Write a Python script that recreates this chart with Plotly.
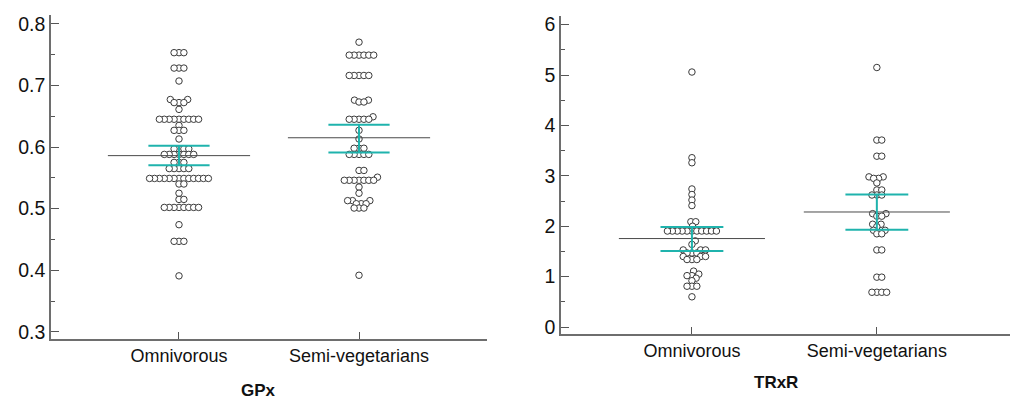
import math
import plotly.graph_objects as go
from plotly.subplots import make_subplots

categories = ["Omnivorous", "Semi-vegetarians"]

gpx_omnivorous = [
    0.753, 0.753, 0.753,
    0.728, 0.728, 0.728,
    0.707,
    0.677, 0.677,
    0.672, 0.672, 0.672,
    0.661,
    0.645, 0.645, 0.645, 0.645, 0.645, 0.645, 0.645, 0.645, 0.645,
    0.635,
    0.627, 0.627, 0.627,
    0.613,
    0.597, 0.597, 0.597, 0.597,
    0.588, 0.588, 0.588, 0.588, 0.588, 0.588, 0.588,
    0.575, 0.575, 0.575,
    0.565, 0.565, 0.565, 0.565, 0.565,
    0.549, 0.549, 0.549, 0.549, 0.549, 0.549, 0.549, 0.549, 0.549, 0.549, 0.549, 0.549, 0.549,
    0.540, 0.540,
    0.525,
    0.515, 0.515,
    0.502, 0.502, 0.502, 0.502, 0.502, 0.502, 0.502, 0.502,
    0.474,
    0.447, 0.447, 0.447,
    0.391,
]
gpx_semiveg = [
    0.770,
    0.749, 0.749, 0.749, 0.749, 0.749, 0.749,
    0.716, 0.716, 0.716, 0.716, 0.716,
    0.676, 0.676, 0.673, 0.673,
    0.649, 0.645, 0.645, 0.645, 0.645, 0.645,
    0.627, 0.613,
    0.598, 0.598, 0.598,
    0.588, 0.588, 0.588, 0.588, 0.588,
    0.562, 0.562,
    0.551, 0.546, 0.546, 0.546, 0.546, 0.546, 0.546, 0.546,
    0.535, 0.525,
    0.513, 0.513, 0.513, 0.508, 0.508, 0.508, 0.501, 0.501, 0.501,
    0.392,
]
trxr_omnivorous = [
    5.06,
    3.36, 3.26,
    2.74, 2.63, 2.52, 2.41,
    2.09, 2.09, 2.00,
    1.905, 1.905, 1.905, 1.905, 1.905, 1.905, 1.905, 1.905, 1.905, 1.905, 1.905,
    1.71, 1.64,
    1.53, 1.53, 1.53, 1.47, 1.47, 1.47, 1.40, 1.40, 1.40, 1.34, 1.34, 1.34,
    1.11, 1.05, 1.02, 1.02, 0.97, 0.92,
    0.81, 0.81, 0.81,
    0.60,
]
trxr_semiveg = [
    5.15,
    3.71, 3.71,
    3.39, 3.39,
    2.98, 2.98, 2.95, 2.95,
    2.86,
    2.72, 2.72,
    2.62, 2.62, 2.62,
    2.25, 2.25, 2.20, 2.20,
    2.04, 2.04, 1.99,
    1.92, 1.92, 1.85, 1.85,
    1.53, 1.53,
    0.99, 0.99,
    0.69, 0.69, 0.69, 0.69,
]

gpx_mean = [0.586, 0.615]
gpx_ci_low = [0.5705, 0.591]
gpx_ci_high = [0.602, 0.636]
trxr_mean = [1.756, 2.283]
trxr_ci_low = [1.51, 1.93]
trxr_ci_high = [1.983, 2.63]

W, H = 1011, 401
# panel geometry (pixels)
L_X0, L_X1, L_Y0, L_Y1 = 51, 487, 13, 342
R_X0, R_X1, R_Y0, R_Y1 = 561, 1010, 14, 337
L_XR = [-0.711, 1.711]
L_YR = [0.2888, 0.8144]
R_XR = [-0.708, 1.72]
R_YR = [-0.137, 6.176]


def swarm(vals, xpx, ypx, d=4.9):
    n = len(vals)
    order = sorted(range(n), key=lambda i: vals[i])
    placed = []
    out = [0.0] * n
    for i in order:
        y = vals[i] * ypx
        neigh = [(px, py) for px, py in placed if abs(py - y) < d]
        cands = [0.0]
        for px, py in neigh:
            dx = math.sqrt(max(d * d - (py - y) ** 2, 0))
            cands += [px + dx, px - dx]
        cands.sort(key=abs)
        x = 0.0
        for c in cands:
            if all((c - px) ** 2 + (y - py) ** 2 >= d * d - 1e-6 for px, py in neigh):
                x = c
                break
        placed.append((x, y))
        out[i] = x / xpx
    return out


fig = make_subplots(rows=1, cols=2)

panels = [
    (1, [gpx_omnivorous, gpx_semiveg], gpx_mean, gpx_ci_low, gpx_ci_high,
     (L_X1 - L_X0) / (L_XR[1] - L_XR[0]), (L_Y1 - L_Y0) / (L_YR[1] - L_YR[0])),
    (2, [trxr_omnivorous, trxr_semiveg], trxr_mean, trxr_ci_low, trxr_ci_high,
     (R_X1 - R_X0) / (R_XR[1] - R_XR[0]), (R_Y1 - R_Y0) / (R_YR[1] - R_YR[0])),
]

MEAN_HW = 0.395
CI_HW = 0.17
CYAN = "#1fb3ad"

for col, groups, means, lo, hi, xpx, ypx in panels:
    for gi, vals in enumerate(groups):
        offs = swarm(vals, xpx, ypx)
        fig.add_trace(go.Scatter(
            x=[gi + o for o in offs], y=vals, mode="markers",
            marker=dict(size=6.5, color="white", line=dict(color="#3a3a3a", width=1)),
            showlegend=False, hoverinfo="y"), row=1, col=col)
    for gi in range(len(groups)):
        fig.add_trace(go.Scatter(
            x=[gi - MEAN_HW, gi + MEAN_HW], y=[means[gi], means[gi]], mode="lines",
            line=dict(color="#4a4a4a", width=1), showlegend=False, hoverinfo="skip"), row=1, col=col)
        fig.add_trace(go.Scatter(
            x=[gi - CI_HW, gi + CI_HW], y=[hi[gi], hi[gi]], mode="lines",
            line=dict(color=CYAN, width=2), showlegend=False, hoverinfo="skip"), row=1, col=col)
        fig.add_trace(go.Scatter(
            x=[gi - CI_HW, gi + CI_HW], y=[lo[gi], lo[gi]], mode="lines",
            line=dict(color=CYAN, width=2), showlegend=False, hoverinfo="skip"), row=1, col=col)
        fig.add_trace(go.Scatter(
            x=[gi, gi], y=[lo[gi], hi[gi]], mode="lines",
            line=dict(color=CYAN, width=2), showlegend=False, hoverinfo="skip"), row=1, col=col)

FONT = "Liberation Sans, Arial, sans-serif"
axis_common = dict(showgrid=False, zeroline=False, showline=True, linecolor="#6e6e6e",
                   linewidth=1.5, ticks="inside", tickcolor="#555555", tickwidth=1)

fig.update_xaxes(**axis_common, tickmode="array", tickvals=[0, 1], ticktext=categories,
                 ticklen=7, tickfont=dict(family=FONT, size=18, color="#111111"))
fig.update_layout(
    xaxis=dict(domain=[L_X0 / W, L_X1 / W], range=L_XR),
    xaxis2=dict(domain=[R_X0 / W, R_X1 / W], range=R_XR),
)
fig.update_yaxes(**axis_common, ticklen=8, tickfont=dict(family=FONT, size=19.5, color="#111111"))
fig.update_layout(
    yaxis=dict(domain=[(H - L_Y1) / H, (H - L_Y0) / H], range=L_YR,
               tick0=0.3, dtick=0.1, tickformat=".1f",
               minor=dict(ticks="inside", ticklen=4, tickcolor="#555555", dtick=0.05, tick0=0.3)),
    yaxis2=dict(domain=[(H - R_Y1) / H, (H - R_Y0) / H], range=R_YR,
                tick0=0, dtick=1,
                minor=dict(ticks="inside", ticklen=4, tickcolor="#555555", dtick=0.5, tick0=0)),
)

fig.add_annotation(text="<b>GPx</b>", xref="paper", yref="paper", x=258 / W, y=(H - 394) / H,
                   showarrow=False, font=dict(family=FONT, size=17, color="#111111"),
                   xanchor="center", yanchor="middle")
fig.add_annotation(text="<b>TRxR</b>", xref="paper", yref="paper", x=776 / W, y=(H - 386) / H,
                   showarrow=False, font=dict(family=FONT, size=17, color="#111111"),
                   xanchor="center", yanchor="middle")

fig.update_layout(width=W, height=H, autosize=False,
                  margin=dict(l=0, r=0, t=0, b=0, pad=0),
                  plot_bgcolor="white", paper_bgcolor="white",
                  font=dict(family=FONT))

fig.write_html("out.html", config={"displayModeBar": False},
               post_script="document.body.style.margin='0';")
